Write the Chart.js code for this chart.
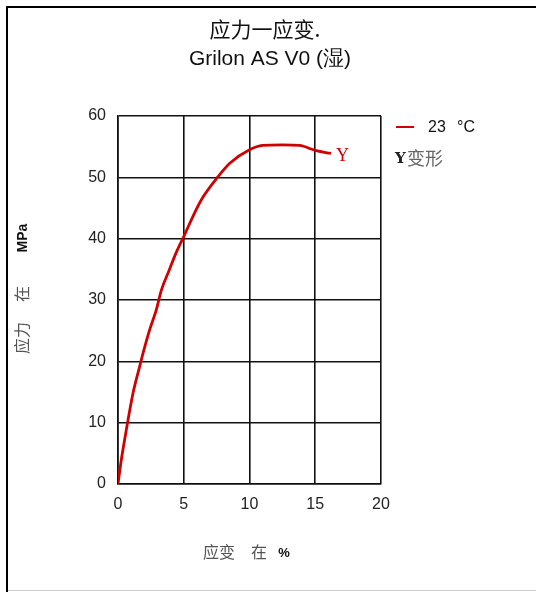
<!doctype html>
<html lang="zh">
  <head>
    <meta charset="utf-8">
    <title>应力一应变 Grilon AS V0</title>
    <style>
      * { margin: 0; padding: 0; }
      body { background: #fff; }
      .chartBox { width: 536px; height: 592px; position: relative; }
    </style>
  </head>
  <body>
    <div class="chartBox">
      <canvas id="myChart" width="536" height="592"></canvas>
    </div>
    <script src="https://cdn.jsdelivr.net/npm/chart.js"></script>
    <script>
    // strain in %, stress in MPa (23 °C curve)
    const strain = [0, 0.25, 0.63, 1.14, 1.64, 1.9, 2.4, 2.9, 3.3, 3.9, 4.4, 5.1, 5.8, 6.5, 7.6, 8.5, 10, 11, 12.5, 13.8, 15, 15.9, 16.2];
    const stress = [0, 3.9, 8.8, 14.8, 19.1, 21.3, 25.1, 28.3, 31.6, 34.9, 37.6, 40.8, 44.1, 46.9, 50.1, 52.3, 54.5, 55.2, 55.3, 55.2, 54.4, 54.0, 53.9];
    const xTicks = [0, 5, 10, 15, 20];
    const yTicks = [0, 10, 20, 30, 40, 50, 60];
    const seriesLabel = '23 °C';
    const titleLines = ['应力一应变.', 'Grilon AS V0 (湿)'];

    const red = '#d00000';
    const cjk = '"Noto Sans CJK SC", "DejaVu Sans", sans-serif';
    const latin = '"Liberation Sans", Arial, sans-serif';

    const decor = {
      id: 'decor',
      afterDraw(chart) {
        const ctx = chart.ctx;
        ctx.save();
        // frame
        ctx.strokeStyle = '#000';
        ctx.lineWidth = 2;
        ctx.beginPath();
        ctx.moveTo(7, 592);
        ctx.lineTo(7, 7);
        ctx.lineTo(536, 7);
        ctx.stroke();
        ctx.strokeStyle = '#ccc';
        ctx.lineWidth = 1;
        ctx.beginPath();
        ctx.moveTo(8, 590.5);
        ctx.lineTo(536, 590.5);
        ctx.stroke();

        // titles
        ctx.fillStyle = '#111';
        ctx.textAlign = 'center';
        ctx.textBaseline = 'middle';
        ctx.font = '21px ' + cjk;
        ctx.fillText(titleLines[0], 265, 29);
        ctx.font = '21px ' + latin;
        ctx.fillText(titleLines[1], 270, 59);

        // legend
        ctx.strokeStyle = red;
        ctx.lineWidth = 2;
        ctx.beginPath();
        ctx.moveTo(396, 127);
        ctx.lineTo(414, 127);
        ctx.stroke();
        ctx.textAlign = 'left';
        ctx.fillStyle = '#111';
        ctx.font = '16px ' + latin;
        const parts = seriesLabel.split(' ');
        ctx.fillText(parts[0], 428, 128);
        ctx.fillText(parts[1], 457, 128);
        ctx.font = 'bold 15px "DejaVu Serif", serif';
        ctx.fillStyle = '#222';
        ctx.fillText('Y', 395, 159);
        ctx.fillStyle = '#666';
        ctx.font = '18px ' + cjk;
        ctx.fillText('变形', 407, 158);

        // end marker label
        const xs = chart.scales.x, ys = chart.scales.y;
        const n = strain.length - 1;
        ctx.fillStyle = red;
        ctx.font = '18px "Liberation Serif", serif';
        ctx.fillText('Y', xs.getPixelForValue(strain[n]) + 5, ys.getPixelForValue(stress[n]) + 3);

        // x axis title
        ctx.textAlign = 'center';
        ctx.fillStyle = '#555';
        ctx.font = '16px ' + cjk;
        ctx.fillText('应变', 219, 552);
        ctx.fillText('在', 259, 552);
        ctx.fillStyle = '#111';
        ctx.font = 'bold 13px ' + latin;
        ctx.fillText('%', 284, 553);

        // y axis title, rotated
        ctx.translate(22, 0);
        ctx.rotate(-Math.PI / 2);
        ctx.fillStyle = '#555';
        ctx.font = '16px ' + cjk;
        ctx.fillText('应力', -338, 0);
        ctx.fillText('在', -294, 0);
        ctx.fillStyle = '#111';
        ctx.font = 'bold 14px ' + latin;
        ctx.fillText('MPa', -238, 1);
        ctx.restore();
      }
    };

    const config = {
      type: 'line',
      data: {
        datasets: [{
          label: seriesLabel,
          data: strain.map((x, i) => ({ x: x, y: stress[i] })),
          borderColor: red,
          borderWidth: 2.8,
          pointRadius: 0,
          cubicInterpolationMode: 'monotone',
          fill: false
        }]
      },
      plugins: [decor],
      options: {
        responsive: false,
        animation: false,
        layout: { padding: { left: 0, top: 116, right: 155, bottom: 0 } },
        plugins: { legend: { display: false }, tooltip: { enabled: false } },
        scales: {
          x: {
            type: 'linear',
            min: 0, max: 20,
            afterFit(scale) { scale.height = 108; },
            afterBuildTicks(scale) { scale.ticks = xTicks.map(v => ({ value: v })); },
            grid: { color: '#111', lineWidth: 1.6, drawTicks: false },
            border: { color: '#111', width: 1.6 },
            ticks: { color: '#222', padding: 11, font: { family: latin, size: 16 } }
          },
          y: {
            min: 0, max: 60,
            afterFit(scale) { scale.width = 118; },
            afterBuildTicks(scale) { scale.ticks = yTicks.map(v => ({ value: v })); },
            grid: { color: '#111', lineWidth: 1.6, drawTicks: false },
            border: { color: '#111', width: 1.6 },
            ticks: { color: '#222', padding: 12, font: { family: latin, size: 16 } }
          }
        }
      }
    };
    new Chart(document.getElementById('myChart'), config);
    </script>
  </body>
</html>
